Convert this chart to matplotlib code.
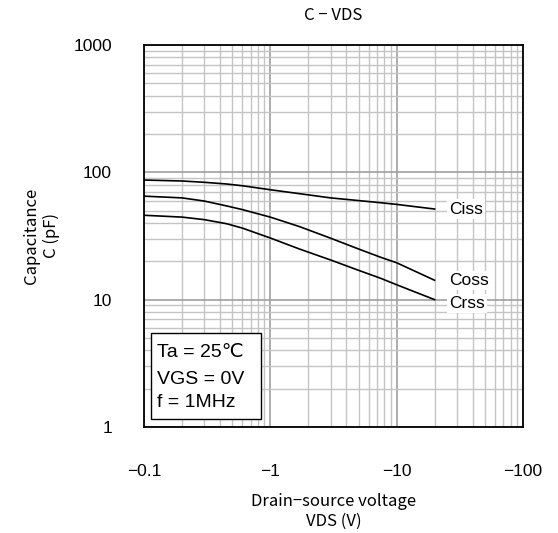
import matplotlib
matplotlib.use("Agg")
import matplotlib.pyplot as plt
from matplotlib.patches import Rectangle
from matplotlib.ticker import FixedLocator, FixedFormatter, NullFormatter

# |VDS| in V (axis is labelled with negative values)
vds = [0.1, 0.2, 0.3, 0.45, 0.6, 1, 1.7, 3, 5, 7.5, 10, 20]
ciss = [87, 85.5, 83.5, 81, 78.5, 73, 68, 63, 60, 57.7, 56, 51.5]
coss = [65, 63, 59.5, 54.5, 51, 44.5, 37.5, 30.4, 25, 21.5, 19.5, 14.2]
crss = [46, 44.5, 42.5, 39.5, 36.5, 30.5, 25, 20.5, 17, 14.7, 13.1, 10]

xticks = [0.1, 1, 10, 100]
xticklabels = ["\u22120.1", "\u22121", "\u221210", "\u2212100"]
yticks = [1, 10, 100, 1000]
yticklabels = ["1", "10", "100", "1000"]

jp = ["Noto Sans CJK JP", "DejaVu Sans"]
lat = ["Liberation Sans", "DejaVu Sans"]

fig = plt.figure(figsize=(5.58, 5.33), dpi=100)
ax = fig.add_axes([0.258, 0.199, 0.679, 0.7165])

ax.set_xscale("log")
ax.set_yscale("log")
ax.set_xlim(0.1, 100)
ax.set_ylim(1, 1000)

ax.grid(which="major", color="#a0a0a0", lw=1.2)
ax.grid(which="minor", color="#c4c4c4", lw=1.0)
ax.set_axisbelow(True)

for y, name, ty in [(ciss, "Ciss", ciss[-1]), (coss, "Coss", coss[-1]), (crss, "Crss", 9.3)]:
    ax.plot(vds, y, color="black", lw=1.2, zorder=3)
    ax.text(26, ty, name, fontsize=12.5, family=lat, va="center", ha="left", zorder=4,
            bbox=dict(facecolor="white", edgecolor="none", pad=1.5))

ax.xaxis.set_major_locator(FixedLocator(xticks))
ax.xaxis.set_major_formatter(FixedFormatter(xticklabels))
ax.xaxis.set_minor_formatter(NullFormatter())
ax.yaxis.set_major_locator(FixedLocator(yticks))
ax.yaxis.set_major_formatter(FixedFormatter(yticklabels))
ax.yaxis.set_minor_formatter(NullFormatter())
ax.tick_params(which="both", length=0, labelsize=12.5)
ax.tick_params(axis="x", pad=27)
ax.tick_params(axis="y", pad=23)
for lab in ax.get_xticklabels() + ax.get_yticklabels():
    lab.set_family(lat)

for s in ax.spines.values():
    s.set_color("black")
    s.set_linewidth(1.3)
    s.set_zorder(5)

ax.add_patch(Rectangle((0.018, 0.021), 0.29, 0.225, transform=ax.transAxes,
                       facecolor="white", edgecolor="black", lw=1.0, zorder=6))
for yy, t in [(0.194, "Ta = 25\u2103"), (0.123, "VGS = 0V"), (0.063, "f = 1MHz")]:
    ax.text(0.034, yy, t, transform=ax.transAxes, fontsize=14, family=lat,
            va="center", ha="left", zorder=7)

ax.set_title("C \u2212 VDS", fontsize=12, family=jp, pad=18)
ax.set_xlabel("Drain\u2212source voltage\nVDS (V)", fontsize=12, family=jp, labelpad=10)
ax.set_ylabel("Capacitance\nC (pF)", fontsize=12, family=jp, labelpad=10)

fig.savefig("out.png", dpi=100)
